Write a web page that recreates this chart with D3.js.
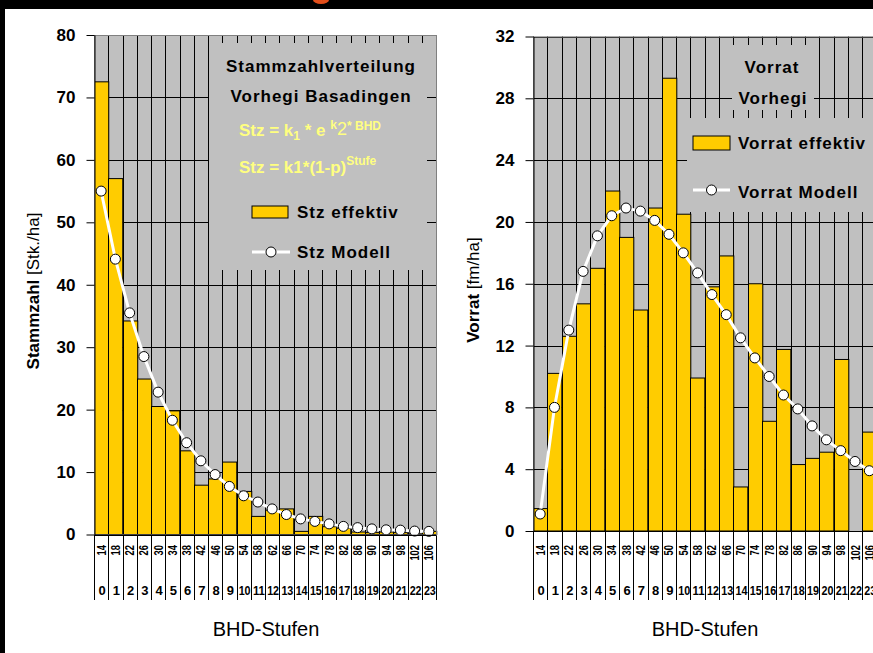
<!DOCTYPE html>
<html>
<head>
<meta charset="utf-8">
<script src="https://cdn.jsdelivr.net/npm/d3@7"></script>
<style>
  html, body { margin: 0; padding: 0; background: #fff; }
  svg { display: block; font-family: "Liberation Sans", Arial, sans-serif; }
</style>
</head>
<body>
<svg id="chart" width="873" height="653"></svg>
<script>
// categories
const stufen = ['0','1','2','3','4','5','6','7','8','9','10','11','12','13','14','15','16','17','18','19','20','21','22','23'];
const bhd = ['14','18','22','26','30','34','38','42','46','50','54','58','62','66','70','74','78','82','86','90','94','98','102','106'];

// Stammzahl [Stk./ha]
const stzEffektiv = [72.5, 57, 34.2, 24.9, 20.5, 19.8, 13.4, 7.9, 8.9, 11.6, 6.9, 2.9, 3.9, 4.1, 0.5, 2.9, 1.25, 1.0, 0.4, 0.3, 0.4, 0.3, 0.1, 0.5];
const stzModell = [55.0, 44.1, 35.5, 28.5, 22.8, 18.3, 14.7, 11.8, 9.6, 7.7, 6.2, 5.2, 4.1, 3.2, 2.5, 2.1, 1.7, 1.3, 1.1, 0.9, 0.75, 0.7, 0.55, 0.5];
const stzTicks = [0, 10, 20, 30, 40, 50, 60, 70, 80];

// Vorrat [fm/ha]
const vorratEffektiv = [1.45, 10.2, 12.6, 14.7, 17.0, 22.0, 19.0, 14.3, 20.9, 29.3, 20.5, 9.9, 15.8, 17.8, 2.85, 16.0, 7.1, 11.75, 4.3, 4.7, 5.1, 11.1, 0, 6.4];
const vorratModell = [1.1, 8.0, 13.0, 16.8, 19.1, 20.4, 20.9, 20.7, 20.1, 19.2, 18.0, 16.7, 15.3, 14.0, 12.5, 11.2, 10.0, 8.8, 7.9, 6.8, 5.9, 5.2, 4.5, 3.9];
const vorratTicks = [0, 4, 8, 12, 16, 20, 24, 28, 32];

const svg = d3.select('#chart');
const FONT = '"Liberation Sans", Arial, sans-serif';

// frame of the slide
svg.append('rect').attr('x', 0).attr('y', 0).attr('width', 873).attr('height', 9).attr('fill', '#000');
svg.append('rect').attr('x', 0).attr('y', 0).attr('width', 5).attr('height', 653).attr('fill', '#000');
svg.append('ellipse').attr('cx', 321).attr('cy', 0).attr('rx', 8).attr('ry', 4).attr('fill', '#E24E1B');

function drawPanel(opt) {
  const x = d3.scaleBand().domain(stufen).range([opt.x0, opt.x1]).padding(0);
  const y = d3.scaleLinear().domain([0, opt.ymax]).range([opt.y0, opt.y1]);
  const g = svg.append('g');

  // plot background
  g.append('rect')
    .attr('x', opt.x0).attr('y', opt.y1)
    .attr('width', opt.x1 - opt.x0).attr('height', opt.y0 - opt.y1)
    .attr('fill', '#C0C0C0');

  // horizontal gridlines
  g.selectAll('.hgrid').data(opt.ticks.slice(1)).enter()
    .append('line')
    .attr('x1', opt.x0).attr('x2', opt.x1)
    .attr('y1', d => Math.round(y(d)) + 0.5).attr('y2', d => Math.round(y(d)) + 0.5)
    .attr('stroke', '#000').attr('stroke-width', 1);

  // category separators (also run down through the label rows)
  const bounds = stufen.map(s => x(s)).concat([opt.x1]);
  g.selectAll('.vgrid').data(bounds).enter()
    .append('line')
    .attr('x1', d => Math.round(d) + 0.5).attr('x2', d => Math.round(d) + 0.5)
    .attr('y1', opt.y1).attr('y2', 600)
    .attr('stroke', '#000').attr('stroke-width', 1);

  // bars
  g.selectAll('.bar').data(opt.bars).enter()
    .append('rect')
    .attr('x', (d, i) => Math.round(x(stufen[i])) + 0.5)
    .attr('y', d => y(d))
    .attr('width', x.bandwidth())
    .attr('height', d => y(0) - y(d))
    .attr('fill', '#FFCC00')
    .attr('stroke', '#000').attr('stroke-width', 1);

  // boxes of the legend / title area
  opt.boxes.forEach(b => {
    g.append('rect').attr('x', b[0]).attr('y', b[1]).attr('width', b[2]).attr('height', b[3]).attr('fill', '#C0C0C0');
  });

  // model line
  const line = d3.line()
    .x((d, i) => x(stufen[i]) + x.bandwidth() / 2)
    .y(d => y(d));
  g.append('path').datum(opt.model)
    .attr('d', line).attr('fill', 'none')
    .attr('stroke', '#fff').attr('stroke-width', 3);
  g.selectAll('.pt').data(opt.model).enter()
    .append('circle')
    .attr('cx', (d, i) => x(stufen[i]) + x.bandwidth() / 2)
    .attr('cy', d => y(d))
    .attr('r', 5)
    .attr('fill', '#fff').attr('stroke', '#000').attr('stroke-width', 1);

  // plot border
  g.append('rect')
    .attr('x', opt.x0 + 0.5).attr('y', opt.y1 + 0.5)
    .attr('width', opt.x1 - opt.x0).attr('height', opt.y0 - opt.y1)
    .attr('fill', 'none').attr('stroke', '#808080');

  // value axis
  const ax = g.append('g')
    .attr('transform', `translate(${opt.x0 + 0.5},0)`)
    .call(d3.axisLeft(y).tickValues(opt.ticks).tickSize(8).tickPadding(11).tickSizeOuter(0));
  ax.select('.domain').attr('stroke', '#000');
  ax.selectAll('.tick line').attr('stroke', '#000');
  ax.selectAll('text')
    .style('font-family', FONT).style('font-size', '17px').style('font-weight', 'bold')
    .attr('fill', '#000');

  // category axis line
  g.append('line')
    .attr('x1', opt.x0).attr('x2', opt.x1)
    .attr('y1', Math.round(y(0)) + 0.5).attr('y2', Math.round(y(0)) + 0.5)
    .attr('stroke', '#000');

  // BHD labels (rotated)
  g.selectAll('.bhd').data(bhd).enter()
    .append('text')
    .attr('transform', (d, i) => `translate(${x(stufen[i]) + x.bandwidth() / 2 + 4.5},545) rotate(-90)`)
    .attr('text-anchor', 'end')
    .attr('textLength', d => d.length * 5.2)
    .attr('lengthAdjust', 'spacingAndGlyphs')
    .style('font-family', FONT).style('font-size', '12px').style('font-weight', 'bold')
    .text(d => d);

  // Stufe labels
  g.selectAll('.stufe').data(stufen).enter()
    .append('text')
    .attr('x', d => x(d) + x.bandwidth() / 2 + 1)
    .attr('y', 595)
    .attr('text-anchor', 'middle')
    .attr('textLength', d => d.length > 1 ? 12 : null)
    .attr('lengthAdjust', 'spacingAndGlyphs')
    .style('font-family', FONT).style('font-size', '13px').style('font-weight', 'bold')
    .text(d => d);

  // axis titles
  g.append('text')
    .attr('x', opt.titleX).attr('y', 636)
    .attr('text-anchor', 'middle')
    .style('font-family', FONT).style('font-size', '20px')
    .text('BHD-Stufen');

  const yt = g.append('text')
    .attr('transform', `translate(${opt.ytX},${opt.ytY}) rotate(-90)`)
    .attr('text-anchor', 'middle')
    .style('font-family', FONT).style('font-size', '17px');
  yt.append('tspan').style('font-weight', 'bold').text(opt.ytBold);
  yt.append('tspan').text(opt.ytNormal);

  return { g, x, y };
}

// left panel: Stammzahl
const left = drawPanel({
  x0: 94, x1: 436, y0: 534.5, y1: 35, ymax: 80,
  ticks: stzTicks, bars: stzEffektiv, model: stzModell,
  boxes: [[209, 43, 218, 227]],
  titleX: 266, ytX: 39, ytY: 291, ytBold: 'Stammzahl', ytNormal: ' [Stk./ha]'
});

// right panel: Vorrat
const right = drawPanel({
  x0: 533, x1: 876.5, y0: 531, y1: 36.5, ymax: 32,
  ticks: vorratTicks, bars: vorratEffektiv, model: vorratModell,
  boxes: [[732, 45, 80, 52], [732, 86, 82, 24], [687, 118, 200, 94]],
  titleX: 705, ytX: 479, ytY: 290, ytBold: 'Vorrat', ytNormal: ' [fm/ha]'
});

// legend helpers
function legendText(g, x, y, txt, anchor) {
  return g.append('text')
    .attr('x', x).attr('y', y)
    .attr('text-anchor', anchor || 'start')
    .style('font-family', FONT).style('font-size', '17px').style('font-weight', 'bold')
    .style('letter-spacing', '1px')
    .text(txt);
}
function legendBar(g, x, y, w, h) {
  g.append('rect').attr('x', x).attr('y', y).attr('width', w).attr('height', h)
    .attr('fill', '#FFCC00').attr('stroke', '#000');
}
function legendLine(g, x, y, w) {
  g.append('line').attr('x1', x).attr('x2', x + w).attr('y1', y).attr('y2', y)
    .attr('stroke', '#fff').attr('stroke-width', 3);
  g.append('circle').attr('cx', x + w / 2).attr('cy', y).attr('r', 5)
    .attr('fill', '#fff').attr('stroke', '#000');
}

// left legend
legendText(left.g, 321, 72, 'Stammzahlverteilung', 'middle');
legendText(left.g, 321, 102, 'Vorhegi Basadingen', 'middle');

const f1 = left.g.append('text')
  .attr('x', 239).attr('y', 136)
  .style('font-family', FONT).style('font-size', '17px').style('font-weight', 'bold')
  .attr('fill', '#FFFF80');
f1.append('tspan').text('Stz = k');
f1.append('tspan').attr('dy', 4).style('font-size', '12px').text('1');
f1.append('tspan').attr('dy', -4).text(' * e ');
f1.append('tspan').attr('dy', -7).style('font-size', '12px').text('k');
f1.append('tspan').attr('dy', 6).style('font-weight', 'normal').style('font-size', '18px').text('2');
f1.append('tspan').attr('dy', -5).style('font-size', '12px').text('* BHD');

const f2 = left.g.append('text')
  .attr('x', 239).attr('y', 173)
  .style('font-family', FONT).style('font-size', '17px').style('font-weight', 'bold')
  .attr('fill', '#FFFF80');
f2.append('tspan').text('Stz = k1*(1-p)');
f2.append('tspan').attr('dy', -8).style('font-size', '12px').text('Stufe');

legendBar(left.g, 252, 206, 36, 12);
legendText(left.g, 297, 218, 'Stz effektiv');
legendLine(left.g, 252, 252, 38);
legendText(left.g, 297, 258, 'Stz Modell');

// right legend
legendText(right.g, 772, 73, 'Vorrat', 'middle');
legendText(right.g, 773, 104, 'Vorhegi', 'middle');
legendBar(right.g, 693, 136, 37, 14);
legendText(right.g, 738, 149, 'Vorrat effektiv');
legendLine(right.g, 693, 190, 37);
legendText(right.g, 738, 198, 'Vorrat Modell');
</script>
</body>
</html>
